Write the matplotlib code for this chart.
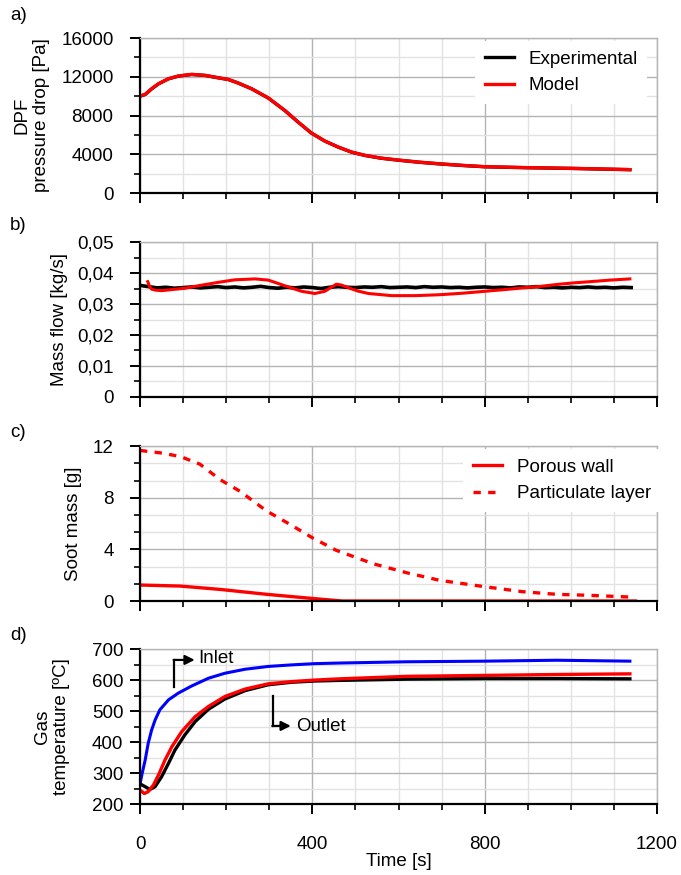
import numpy as np
import matplotlib
matplotlib.use("Agg")
import matplotlib.pyplot as plt
from matplotlib.ticker import MultipleLocator, FixedLocator, FuncFormatter

plt.rcParams['font.family'] = ['Liberation Sans', 'DejaVu Sans']
plt.rcParams['font.size'] = 13

# a) DPF pressure drop [Pa]
t_dp = [0, 12, 27, 43, 66, 89, 120, 151, 182, 205, 228, 259, 298, 336, 367, 398, 429, 460, 491, 522,
        560, 600, 650, 700, 750, 800, 900, 1000, 1137]
dp_model = [10010, 10190, 10770, 11290, 11800, 12080, 12250, 12150, 11900, 11730, 11360, 10770, 9810, 8530,
            7330, 6190, 5370, 4750, 4230, 3890, 3600, 3400, 3180, 3000, 2850, 2720, 2620, 2550, 2420]
dp_exp = [9990, 10170, 10750, 11270, 11790, 12070, 12240, 12140, 11890, 11720, 11350, 10760, 9800, 8520,
          7320, 6180, 5360, 4740, 4220, 3880, 3590, 3390, 3170, 2990, 2840, 2710, 2610, 2540, 2410]

# b) mass flow [kg/s]
t_mf_exp = list(range(0, 1141, 20))
mf_exp = [0.0360, 0.0356, 0.0352, 0.0354, 0.0351, 0.0353, 0.0355, 0.0352, 0.0354, 0.0356,
          0.0353, 0.0355, 0.0352, 0.0354, 0.0357, 0.0353, 0.0351, 0.0354, 0.0352, 0.0355,
          0.0353, 0.0350, 0.0354, 0.0356, 0.0354, 0.0353, 0.0355, 0.0354, 0.0356, 0.0353,
          0.0354, 0.0355, 0.0353, 0.0356, 0.0354, 0.0355, 0.0353, 0.0354, 0.0352, 0.0354,
          0.0355, 0.0353, 0.0354, 0.0352, 0.0355, 0.0354, 0.0356, 0.0353, 0.0354, 0.0352,
          0.0354, 0.0353, 0.0355, 0.0353, 0.0354, 0.0352, 0.0354, 0.0353]
t_mf_model = [18, 22, 27, 35, 50, 104, 140, 182, 220, 267, 298, 336, 375, 406, 429, 445, 456, 468, 483,
              505, 530, 584, 640, 696, 750, 800, 850, 889, 930, 967, 1005, 1044, 1090, 1137]
mf_model = [0.0372, 0.0358, 0.0348, 0.0345, 0.0343, 0.0351, 0.0360, 0.0370, 0.0378, 0.0381, 0.0377,
            0.0359, 0.0341, 0.0334, 0.0341, 0.0355, 0.0364, 0.0361, 0.0353, 0.0342, 0.0334, 0.0327,
            0.0327, 0.0330, 0.0335, 0.0341, 0.0347, 0.0352, 0.0357, 0.0363, 0.0368, 0.0372, 0.0377, 0.0381]

# c) soot mass [g]
t_layer = [0, 46, 93, 139, 186, 232, 294, 348, 400, 456, 541, 619, 696, 800, 889, 967, 1044, 1137]
soot_layer = [11.66, 11.48, 11.2, 10.6, 9.4, 8.5, 6.97, 5.94, 4.9, 3.92, 2.89, 2.19, 1.6, 1.11, 0.72, 0.52, 0.44, 0.31]
t_wall = [0, 93, 186, 294, 400, 470, 1150]
soot_wall = [1.24, 1.16, 0.9, 0.52, 0.2, 0.0, 0.0]

# d) gas temperature [ºC]
t_inlet = [0, 5, 12, 19, 27, 35, 46, 66, 89, 120, 159, 197, 244, 298, 352, 406, 464, 619, 800, 967, 1137]
temp_inlet = [265, 299, 342, 396, 439, 471, 504, 536, 558, 581, 606, 622, 635, 644, 649, 653, 655, 659, 661, 664, 661]
t_out_model = [0, 10, 19, 31, 43, 58, 74, 97, 128, 159, 197, 244, 298, 352, 406, 464, 619, 800, 967, 1137]
temp_out_model = [245, 234, 240, 261, 294, 342, 385, 434, 482, 515, 547, 571, 588, 595, 600, 604, 612, 615, 618, 620]
t_out_exp = [0, 12, 23, 35, 50, 66, 81, 104, 128, 159, 197, 244, 298, 352, 406, 464, 619, 800, 967, 1137]
temp_out_exp = [265, 256, 247, 256, 288, 331, 374, 423, 466, 506, 539, 566, 585, 593, 597, 599, 603, 605, 605, 604]

fig = plt.figure(figsize=(6.81, 8.75), dpi=100)
left, width, height = 0.2056, 0.7592, 0.1771
bottoms = [0.7794, 0.5463, 0.3131, 0.0811]
axes = [fig.add_axes([left, b, width, height]) for b in bottoms]


def style(ax, major, minor, ylim, ypad):
    ax.set_xlim(0, 1200)
    ax.set_ylim(*ylim)
    ax.xaxis.set_major_locator(MultipleLocator(400))
    ax.xaxis.set_minor_locator(MultipleLocator(100))
    ax.yaxis.set_major_locator(MultipleLocator(major))
    ax.yaxis.set_minor_locator(FixedLocator(minor))
    ax.grid(True, which='major', color='#b4b4b4', lw=1.0, zorder=0)
    ax.grid(True, which='minor', color='#e2e2e2', lw=1.0, zorder=0)
    ax.set_axisbelow(True)
    for s in ['top', 'right']:
        ax.spines[s].set_color('#b4b4b4')
        ax.spines[s].set_linewidth(1.0)
    for s in ['left', 'bottom']:
        ax.spines[s].set_color('black')
        ax.spines[s].set_linewidth(1.6)
    ax.tick_params(which='major', direction='out', length=7, width=1.4, colors='black')
    ax.tick_params(which='minor', direction='out', length=4, width=1.2, colors='black')
    ax.tick_params(axis='x', which='both', labelbottom=False, pad=16)
    ax.tick_params(axis='y', labelsize=13.5, pad=ypad)


def white_legend(ax, anchor):
    leg = ax.legend(loc='upper right', frameon=True, fontsize=13.5, handlelength=1.55,
                    borderaxespad=0.2, labelspacing=0.5, handletextpad=0.8, bbox_to_anchor=anchor)
    leg.get_frame().set_edgecolor('none')
    leg.get_frame().set_alpha(1)
    leg.get_frame().set_boxstyle('square', pad=0.1)


ax = axes[0]
style(ax, 4000, np.arange(2000, 16000, 4000), (0, 16000), 12)
ax.plot(t_dp, dp_exp, color='black', lw=2.4, label='Experimental')
ax.plot(t_dp, dp_model, color='red', lw=2.4, label='Model')
ax.set_ylabel('DPF\npressure drop [Pa]', fontsize=13.5)
ax.yaxis.set_label_coords(-0.174, 0.5)
white_legend(ax, (0.985, 0.99))

ax = axes[1]
style(ax, 0.01, np.arange(0.005, 0.05, 0.01), (0, 0.05), 12)
ax.plot(t_mf_exp, mf_exp, color='black', lw=2.6)
ax.plot(t_mf_model, mf_model, color='red', lw=2.2)
ax.yaxis.set_major_formatter(FuncFormatter(lambda v, p: '0' if abs(v) < 1e-9 else f'{v:.2f}'.replace('.', ',')))
ax.set_ylabel('Mass flow [kg/s]', fontsize=13.5)
ax.yaxis.set_label_coords(-0.139, 0.5)

ax = axes[2]
style(ax, 4, [4 / 3, 8 / 3, 16 / 3, 20 / 3, 28 / 3, 32 / 3], (0, 12), 12)
ax.plot(t_wall, soot_wall, color='red', lw=2.4, label='Porous wall')
ax.plot(t_layer, soot_layer, color='red', lw=2.4, ls=(0, (2.2, 2.2)), label='Particulate layer')
ax.set_ylabel('Soot mass [g]', fontsize=13.5)
ax.yaxis.set_label_coords(-0.112, 0.5)
white_legend(ax, (1.01, 0.99))

ax = axes[3]
style(ax, 100, np.arange(250, 700, 100), (200, 700), 5)
ax.plot(t_inlet, temp_inlet, color='blue', lw=2.2)
ax.plot(t_out_exp, temp_out_exp, color='black', lw=2.4)
ax.plot(t_out_model, temp_out_model, color='red', lw=2.4)
ax.tick_params(axis='x', which='major', labelbottom=True, labelsize=13.5)
ax.set_ylabel('Gas\ntemperature [ºC]', fontsize=13.5)
ax.yaxis.set_label_coords(-0.135, 0.5)
ax.set_xlabel('Time [s]', fontsize=13.5, labelpad=0)
# annotation arrows
ax.plot([79, 79], [579, 665], color='black', lw=1.6)
ax.annotate('', xy=(127, 665), xytext=(78, 665),
            arrowprops=dict(arrowstyle='-|>', color='black', lw=1.6, mutation_scale=14, shrinkA=0, shrinkB=0))
ax.text(136, 668, 'Inlet', fontsize=13.5, va='center', ha='left')
ax.plot([308, 308], [549, 452], color='black', lw=1.6)
ax.annotate('', xy=(350, 452), xytext=(307, 452),
            arrowprops=dict(arrowstyle='-|>', color='black', lw=1.6, mutation_scale=14, shrinkA=0, shrinkB=0))
ax.text(362, 449, 'Outlet', fontsize=13.5, va='center', ha='left')

for lab, y in zip(['a)', 'b)', 'c)', 'd)'], [15, 225, 432, 636]):
    fig.text(10 / 681, 1 - y / 875, lab, fontsize=13.5, va='center', ha='left')

fig.savefig('out.png', dpi=100)
